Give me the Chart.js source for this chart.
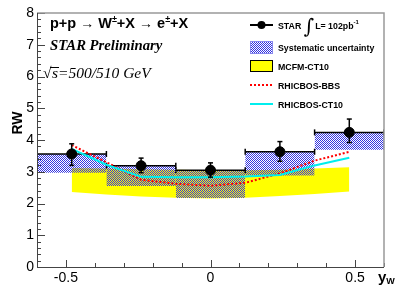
<!DOCTYPE html>
<html lang="en">
<head>
<meta charset="UTF-8">
<title>RW vs yW</title>
<script src="https://cdn.jsdelivr.net/npm/chart.js"></script>
<style>body{margin:0;background:#fff}</style>
</head>
<body>
<canvas id="myChart" width="399" height="291"></canvas>
<script>
// bins in y_W and measured RW
const binEdges = [-0.6, -0.36, -0.12, 0.12, 0.36, 0.6];
const yW = [-0.48, -0.24, 0, 0.24, 0.48];
const rw = [3.56, 3.19, 3.05, 3.63, 4.24];
const statLo = [3.2, 2.97, 2.83, 3.33, 3.92];
const statHi = [3.88, 3.43, 3.28, 3.95, 4.66];
const sysLo = [2.97, 2.55, 2.17, 2.88, 3.69];

// theory curves
const curveX = [-0.48, -0.36, -0.24, -0.12, 0, 0.12, 0.24, 0.36, 0.48];
const bbs = [3.84, 3.3, 2.75, 2.62, 2.56, 2.65, 2.95, 3.35, 3.63];
const ct10 = [3.72, 3.22, 2.84, 2.83, 2.83, 2.85, 2.9, 3.2, 3.44];
const mcfmHi = [3.12, 3.1, 3.08, 3.06, 3.05, 3.05, 3.06, 3.1, 3.14];
const mcfmLo = [2.36, 2.28, 2.22, 2.18, 2.16, 2.18, 2.24, 2.3, 2.38];

// axis ticks
const yTicks = [0, 1, 2, 3, 4, 5, 6, 7, 8];
const xTicks = [-0.5, 0, 0.5];
const xTickLabels = ['-0.5', '0', '0.5'];

// hatch pattern for systematic boxes
let pc = document.createElement('canvas');
pc.width = 2; pc.height = 2;
let pctx = pc.getContext('2d');
pctx.fillStyle = '#3434e0';
pctx.fillRect(0, 0, 1, 1);
pctx.fillRect(1, 1, 1, 1);
let hatch = pctx.createPattern(pc, 'repeat');

let pts = (xs, ys) => xs.map((v, i) => ({ x: v, y: ys[i] }));

let datasets = [];
// MCFM band
datasets.push({ data: pts(curveX, mcfmHi), borderWidth: 0, pointRadius: 0, backgroundColor: '#ffff00', fill: '+1', order: 10 });
datasets.push({ data: pts(curveX, mcfmLo), borderWidth: 0, pointRadius: 0, fill: false, order: 10 });
// systematic boxes with x-range line
for (let i = 0; i < yW.length; i++) {
    datasets.push({
        data: [{ x: binEdges[i], y: rw[i] }, { x: binEdges[i + 1], y: rw[i] }],
        borderColor: '#000', borderWidth: 1.5, backgroundColor: hatch,
        fill: { value: sysLo[i] },
        pointStyle: 'line', rotation: 90, pointRadius: 3, pointBorderColor: '#000', pointBorderWidth: 1.5,
        order: 8
    });
}
// curves
datasets.push({ data: pts(curveX, bbs), borderColor: '#ff0000', borderWidth: 2, borderDash: [2, 2], pointRadius: 0, fill: false, order: 5 });
datasets.push({ data: pts(curveX, ct10), borderColor: '#00eeee', borderWidth: 2, pointRadius: 0, fill: false, order: 4 });
// stat error bars
let err = [];
yW.forEach((v, i) => {
    err.push({ x: v, y: statLo[i] }, { x: v, y: statHi[i] }, { x: v, y: null });
});
datasets.push({ data: err, borderColor: '#000', borderWidth: 1.5, pointStyle: 'line', pointRadius: 2.5, pointBorderColor: '#000', pointBorderWidth: 1.5, spanGaps: false, fill: false, order: 2 });
// points
datasets.push({ data: pts(yW, rw), showLine: false, pointRadius: 5, pointBackgroundColor: '#000', pointBorderColor: '#000', order: 1 });

//tekst, rammer og legend tegnes her
function rich(ctx, parts, x, y) {
    for (let p of parts) {
        ctx.font = p[1];
        ctx.fillText(p[0], x, y + (p[2] || 0));
        x += ctx.measureText(p[0]).width + (p[3] || 0);
    }
    return x;
}

const frame = {
    id: 'frame',
    afterDraw(chart) {
        const { ctx, chartArea: a, scales: { x, y } } = chart;
        ctx.save();
        ctx.lineWidth = 1;
        ctx.strokeStyle = '#444';
        // ticks on y
        for (let i = 0; i <= 40; i++) {
            let py = Math.round(y.getPixelForValue(i * 0.2)) + 0.5;
            let len = i % 5 == 0 ? 8 : 4;
            ctx.beginPath(); ctx.moveTo(a.left, py); ctx.lineTo(a.left + len, py); ctx.stroke();
        }
        for (let i = -6; i <= 6; i++) {
            let px = Math.round(x.getPixelForValue(i / 10)) + 0.5;
            let len = i % 5 == 0 ? 7 : 4;
            ctx.beginPath(); ctx.moveTo(px, a.bottom); ctx.lineTo(px, a.bottom - len); ctx.stroke();
        }
        // frame
        ctx.strokeStyle = '#999'; ctx.lineWidth = 1.5;
        ctx.beginPath(); ctx.moveTo(a.left, a.top); ctx.lineTo(a.right, a.top); ctx.lineTo(a.right, a.bottom); ctx.stroke();
        ctx.strokeStyle = '#444'; ctx.lineWidth = 1;
        ctx.beginPath(); ctx.moveTo(a.left + 0.5, a.top); ctx.lineTo(a.left + 0.5, a.bottom + 0.5); ctx.lineTo(a.right, a.bottom + 0.5); ctx.stroke();

        ctx.fillStyle = '#000';
        ctx.textBaseline = 'alphabetic';
        // axis titles
        ctx.save();
        ctx.translate(22, 123); ctx.rotate(-Math.PI / 2);
        ctx.textAlign = 'center';
        ctx.font = 'bold 14px "Liberation Sans"';
        ctx.fillText('RW', 0, 0);
        ctx.restore();
        rich(ctx, [['y', 'bold 15px "Liberation Sans"'], ['W', 'bold 9px "Liberation Sans"', 2]], 378, 282);

        // annotations
        const b15 = 'bold 14.5px "Liberation Sans"', b9 = 'bold 9px "Liberation Sans"';
        rich(ctx, [['p+p ', b15], ['\u2192', '14px "Liberation Sans"'], [' W', b15], ['\u00b1', b9, -6], ['+X ', b15], ['\u2192', '14px "Liberation Sans"'], [' e', b15], ['\u00b1', b9, -6], ['+X', b15]], 50, 28);
        ctx.font = 'italic bold 14.7px "Liberation Serif"';
        ctx.fillText('STAR Preliminary', 50, 50);
        ctx.font = 'italic 15.5px "Liberation Serif"';
        ctx.fillText('\u221a', 43, 78);
        ctx.fillText('s=500/510 GeV', 52, 78);
        ctx.beginPath(); ctx.moveTo(50, 67.5); ctx.lineTo(59, 67.5); ctx.lineWidth = 1; ctx.strokeStyle = '#000'; ctx.stroke();

        // legend
        const lf = 'bold 8.8px "Liberation Sans"';
        const lx = 250, lw = 23, tx = 278;
        ctx.lineWidth = 2; ctx.strokeStyle = '#000';
        ctx.beginPath(); ctx.moveTo(lx, 25); ctx.lineTo(lx + lw, 25); ctx.stroke();
        ctx.beginPath(); ctx.arc(lx + lw / 2, 25, 4, 0, Math.PI * 2); ctx.fill();
        let ex = rich(ctx, [['STAR ', lf]], tx, 29);
        rich(ctx, [['\u222b', '20px "DejaVu Serif"', 4, 1], ['L= 102pb', lf], ['-1', 'bold 6px "Liberation Sans"', -5]], ex, 29);

        ctx.fillStyle = hatch;
        ctx.fillRect(lx, 41, lw, 13);
        ctx.strokeStyle = '#8888ee'; ctx.lineWidth = 1;
        ctx.strokeRect(lx + 0.5, 41.5, lw - 1, 12);
        ctx.fillStyle = '#000';
        rich(ctx, [['Systematic uncertainty', lf]], tx, 51);

        ctx.fillStyle = '#ffff00';
        ctx.fillRect(lx, 60, lw, 12);
        ctx.strokeStyle = '#000';
        ctx.strokeRect(lx + 0.5, 60.5, lw - 1, 11);
        ctx.fillStyle = '#000';
        rich(ctx, [['MCFM-CT10', lf]], tx, 70);

        ctx.lineWidth = 2;
        ctx.strokeStyle = '#ff0000'; ctx.setLineDash([2, 2]);
        ctx.beginPath(); ctx.moveTo(lx, 85); ctx.lineTo(lx + lw, 85); ctx.stroke();
        ctx.setLineDash([]);
        rich(ctx, [['RHICBOS-BBS', lf]], tx, 89);
        ctx.strokeStyle = '#00eeee';
        ctx.beginPath(); ctx.moveTo(lx, 104); ctx.lineTo(lx + lw, 104); ctx.stroke();
        rich(ctx, [['RHICBOS-CT10', lf]], tx, 108);
        ctx.restore();
    }
};

let ctx = document.getElementById('myChart').getContext('2d');
let myChart = new Chart(ctx, {
    type: 'line',
    data: { datasets: datasets },
    options: {
        responsive: false,
        animation: false,
        layout: { padding: { left: 0, right: 15, top: 13, bottom: 0 } },
        plugins: { legend: { display: false }, tooltip: { enabled: false } },
        scales: {
            x: {
                type: 'linear', min: -0.6, max: 0.6,
                grid: { display: false, drawTicks: false, tickLength: 0 }, border: { display: false },
                afterBuildTicks: s => { s.ticks = xTicks.map(v => ({ value: v })); },
                afterFit: s => { s.height = 24; },
                ticks: {
                    color: '#000', padding: 3, maxRotation: 0, autoSkip: false,
                    font: { family: 'Liberation Sans', size: 14 },
                    callback: (v) => xTickLabels[xTicks.indexOf(v)]
                }
            },
            y: {
                min: 0, max: 8,
                grid: { display: false, drawTicks: false, tickLength: 0 }, border: { display: false },
                afterBuildTicks: s => { s.ticks = yTicks.map(v => ({ value: v })); },
                afterFit: s => { s.width = 37; },
                ticks: { color: '#000', padding: 3, font: { family: 'Liberation Sans', size: 14 } }
            }
        }
    },
    plugins: [frame]
});
</script>
</body>
</html>
